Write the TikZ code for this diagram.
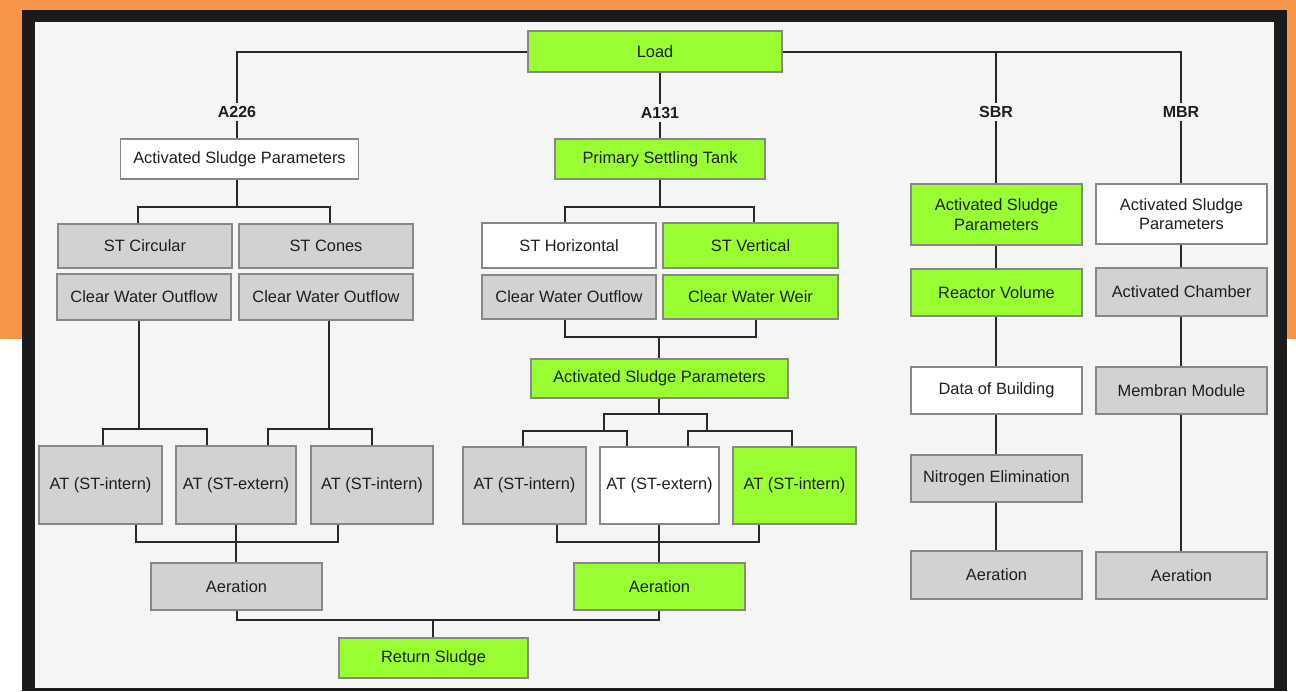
\documentclass[tikz,border=0pt]{standalone}
\usepackage{fontspec}
\setmainfont{Liberation Sans}
\usepackage{tikz}
\usetikzlibrary{positioning,calc}
\definecolor{boxgreen}{RGB}{153,255,51}
\definecolor{boxgrey}{RGB}{210,210,210}
\definecolor{boxedge}{RGB}{135,135,135}
\definecolor{boxtext}{RGB}{30,30,30}
\definecolor{wirecol}{RGB}{40,40,40}
\definecolor{orangebg}{RGB}{247,150,70}
\definecolor{framecol}{RGB}{27,27,27}
\definecolor{panel}{RGB}{245,245,245}

\begin{document}
\begin{tikzpicture}[x=1pt,y=-1pt,
	box/.style={draw=boxedge,line width=1.3pt,inner sep=0pt,text=boxtext,font=\fontsize{16.4}{19.5}\selectfont,align=center},
	gbox/.style={box,fill=boxgreen},
	sbox/.style={box,fill=boxgrey},
	wbox/.style={box,fill=white},
	tag/.style={font=\bfseries\fontsize{16}{19}\selectfont,text=boxtext,inner sep=3pt},
	wire/.style={draw=wirecol,line width=2pt}]
	\useasboundingbox (0,0) rectangle (1296,691);
	\fill[white] (0,0) rectangle (1296,691);
	\fill[orangebg] (0,0) rectangle (1296,339);
	\fill[framecol] (22,10) rectangle (1287,691);
	\fill[panel] (35,22) rectangle (1274,688);

	\node[gbox,minimum width=254,minimum height=41] (load) at (655,51.5) {Load};

	\node[tag] (a226) at (237,112) {A226};
	\node[tag] (a131) at (660,113) {A131};
	\node[tag] (sbr) at (996,112) {SBR};
	\node[tag] (mbr) at (1181,112) {MBR};

	\node[wbox,minimum width=238,minimum height=40] (asp1) at (239.5,159) {Activated Sludge Parameters};
	\node[sbox,minimum width=174,minimum height=44] (stc) at (145,246) {ST Circular};
	\node[sbox,minimum width=174,minimum height=44] (stk) at (326,246) {ST Cones};
	\node[sbox,minimum width=174,minimum height=46] (cwo1) at (144,297) {Clear Water Outflow};
	\node[sbox,minimum width=174,minimum height=46] (cwo2) at (326,297) {Clear Water Outflow};
	\node[sbox,minimum width=123,minimum height=78] (at1) at (100.5,485) {AT (ST-intern)};
	\node[sbox,minimum width=120,minimum height=78] (at2) at (236,485) {AT (ST-extern)};
	\node[sbox,minimum width=122,minimum height=78] (at3) at (372,485) {AT (ST-intern)};
	\node[sbox,minimum width=171,minimum height=47] (aer1) at (236.5,586.5) {Aeration};

	\node[gbox,minimum width=210,minimum height=40] (pst) at (660,159) {Primary Settling Tank};
	\node[wbox,minimum width=174,minimum height=45] (sth) at (569,245.5) {ST Horizontal};
	\node[gbox,minimum width=175,minimum height=45] (stv) at (750.5,245.5) {ST Vertical};
	\node[sbox,minimum width=174,minimum height=44] (cwo3) at (569,297) {Clear Water Outflow};
	\node[gbox,minimum width=175,minimum height=44] (cww) at (750.5,297) {Clear Water Weir};
	\node[gbox,minimum width=257,minimum height=39] (asp2) at (659.5,378.5) {Activated Sludge Parameters};
	\node[sbox,minimum width=123,minimum height=77] (at4) at (524.5,485.5) {AT (ST-intern)};
	\node[wbox,minimum width=119,minimum height=77] (at5) at (659.5,485.5) {AT (ST-extern)};
	\node[gbox,minimum width=123,minimum height=77] (at6) at (794.5,485.5) {AT (ST-intern)};
	\node[gbox,minimum width=171,minimum height=47] (aer2) at (659.5,586.5) {Aeration};

	\node[gbox,minimum width=189,minimum height=40] (ret) at (433.5,658) {Return Sludge};

	\node[gbox,minimum width=171,minimum height=61] (sasp) at (996.5,214.5) {Activated Sludge\\Parameters};
	\node[gbox,minimum width=171,minimum height=47] (rv) at (996.5,292.5) {Reactor Volume};
	\node[wbox,minimum width=171,minimum height=47] (dob) at (996.5,390.5) {Data of Building};
	\node[sbox,minimum width=171,minimum height=47] (ne) at (996.5,478.5) {Nitrogen Elimination};
	\node[sbox,minimum width=171,minimum height=48] (saer) at (996.5,575) {Aeration};

	\node[wbox,minimum width=171,minimum height=60] (masp) at (1181.5,214) {Activated Sludge\\Parameters};
	\node[sbox,minimum width=171,minimum height=48] (ac) at (1181.5,292) {Activated Chamber};
	\node[sbox,minimum width=171,minimum height=47] (mm) at (1181.5,390.5) {Membran Module};
	\node[sbox,minimum width=171,minimum height=47] (maer) at (1181.5,575.5) {Aeration};

	\draw[wire] (load.west) -| (a226.north);
	\draw[wire] (load.east) -| (mbr.north);
	\draw[wire] (sbr |- load.east) -- (sbr.north);
	\draw[wire] (a131 |- load.south) -- (a131.north);

	\draw[wire] (a226.south) -- (a226 |- asp1.north);
	\draw[wire] (a226 |- asp1.south) -- (237,207);
	\draw[wire] (138,0 |- stc.north) |- (330,207) -- (330,0 |- stk.north);
	\draw[wire] (139,0 |- cwo1.south) -- (139,429);
	\draw[wire] (103,0 |- at1.north) |- (207,429) -- (207,0 |- at2.north);
	\draw[wire] (329,0 |- cwo2.south) -- (329,429);
	\draw[wire] (268,0 |- at2.north) |- (372,429) -- (372,0 |- at3.north);
	\draw[wire] (136,0 |- at1.south) |- (338,542) -- (338,0 |- at3.south);
	\draw[wire] (at2.south) -- (at2.south |- aer1.north);

	\draw[wire] (a131.south) -- (a131 |- pst.north);
	\draw[wire] (a131 |- pst.south) -- (660,207);
	\draw[wire] (565,0 |- sth.north) |- (754,207) -- (754,0 |- stv.north);
	\draw[wire] (565,0 |- cwo3.south) |- (756,337) -- (756,0 |- cww.south);
	\draw[wire] (659,337) -- (659,0 |- asp2.north);
	\draw[wire] (659,0 |- asp2.south) -- (659,414);
	\draw[wire] (604,431) |- (707,414) -- (707,431);
	\draw[wire] (523,0 |- at4.north) |- (627,431) -- (627,0 |- at5.north);
	\draw[wire] (688,0 |- at5.north) |- (792,431) -- (792,0 |- at6.north);
	\draw[wire] (557,0 |- at4.south) |- (759,542) -- (759,0 |- at6.south);
	\draw[wire] (659,0 |- at5.south) -- (659,0 |- aer2.north);

	\draw[wire] (aer1.south) |- (659,620) -- (659,0 |- aer2.south);
	\draw[wire] (433,620) -- (433,0 |- ret.north);

	\draw[wire] (sbr.south) -- (sbr |- sasp.north);
	\draw[wire] (sbr |- sasp.south) -- (sbr |- rv.north);
	\draw[wire] (sbr |- rv.south) -- (sbr |- dob.north);
	\draw[wire] (sbr |- dob.south) -- (sbr |- ne.north);
	\draw[wire] (sbr |- ne.south) -- (sbr |- saer.north);

	\draw[wire] (mbr.south) -- (mbr |- masp.north);
	\draw[wire] (mbr |- masp.south) -- (mbr |- ac.north);
	\draw[wire] (mbr |- ac.south) -- (mbr |- mm.north);
	\draw[wire] (mbr |- mm.south) -- (mbr |- maer.north);
\end{tikzpicture}
\end{document}
